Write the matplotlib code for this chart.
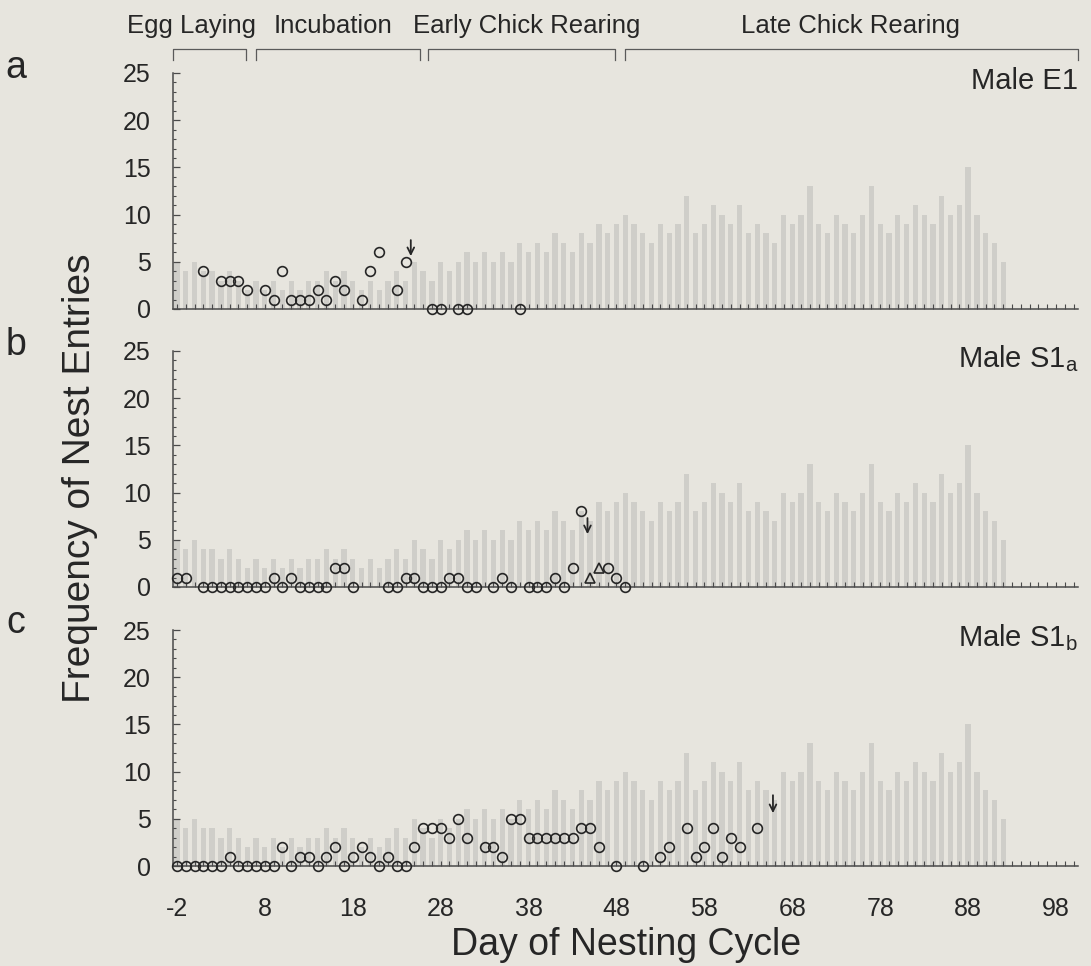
import matplotlib
matplotlib.use("Agg")
import matplotlib.pyplot as plt
from matplotlib.ticker import MultipleLocator
from matplotlib.transforms import blended_transform_factory

plt.rcParams["font.family"] = ["Liberation Sans", "DejaVu Sans"]
plt.rcParams["mathtext.fontset"] = "custom"
plt.rcParams["mathtext.rm"] = "Liberation Sans"
plt.rcParams["mathtext.it"] = "Liberation Sans:italic"
plt.rcParams["axes.unicode_minus"] = False

# --- data ------------------------------------------------------------------
# light grey daily background counts (same in all three panels), days -2..92
GRAY_DAYS = list(range(-2, 93))
GRAY = [5, 4, 5, 4, 4, 3, 4,
        3, 2, 3, 2, 3, 2, 3, 2, 3, 3,
        4, 3, 4, 3, 2, 3, 2, 3, 4, 3,
        5, 4, 3, 5, 4, 5, 6, 5, 6, 5,
        6, 5, 7, 6, 7, 6, 8, 7, 6, 8,
        7, 9, 8, 9, 10, 9, 8, 7, 9, 8,
        9, 12, 8, 9, 11, 10, 9, 11, 8, 9,
        8, 7, 10, 9, 10, 13, 9, 8, 10, 9,
        8, 10, 13, 9, 8, 10, 9, 11, 10, 9,
        12, 10, 11, 15, 10, 8, 7, 5]

# Male E1
DAYS_A = [1, 3, 4, 5, 6, 8, 9, 10, 11, 12, 13, 14, 15, 16, 17, 19, 20, 21, 23, 24,
          27, 28, 30, 31, 37]
ENTRIES_A = [4, 3, 3, 3, 2, 2, 1, 4, 1, 1, 1, 2, 1, 3, 2, 1, 4, 6, 2, 5,
             0, 0, 0, 0, 0]

# Male S1a
DAYS_B = [-2, -1, 1, 2, 3, 4, 5, 6, 7, 8, 9, 10, 11, 12, 13, 14, 15, 16, 17, 18,
          22, 23, 24, 25, 26, 27, 28, 29, 30, 31, 32, 34, 35, 36, 38, 39, 40, 41,
          42, 43, 44, 47, 48, 49]
ENTRIES_B = [1, 1, 0, 0, 0, 0, 0, 0, 0, 0, 1, 0, 1, 0, 0, 0, 0, 2, 2, 0,
             0, 0, 1, 1, 0, 0, 0, 1, 1, 0, 0, 0, 1, 0, 0, 0, 0, 1,
             0, 2, 8, 2, 1, 0]
TRI_DAYS_B = [45, 46]
TRI_B = [1, 2]

# Male S1b
DAYS_C = [-2, -1, 0, 1, 2, 3, 4, 5, 6, 7, 8, 9, 10, 11, 12, 13, 14, 15, 16, 17,
          18, 19, 20, 21, 22, 23, 24, 25, 26, 27, 28, 29, 30, 31, 33, 34, 35, 36,
          37, 38, 39, 40, 41, 42, 43, 44, 45, 46, 48, 51, 53, 54, 56, 57, 58, 59,
          60, 61, 62, 64]
ENTRIES_C = [0, 0, 0, 0, 0, 0, 1, 0, 0, 0, 0, 0, 2, 0, 1, 1, 0, 1, 2, 0,
             1, 2, 1, 0, 1, 0, 0, 2, 4, 4, 4, 3, 5, 3, 2, 2, 1, 5,
             5, 3, 3, 3, 3, 3, 3, 4, 4, 2, 0, 0, 1, 2, 4, 1, 2, 4,
             1, 3, 2, 4]

PANEL_LETTERS = ["a", "b", "c"]
PANEL_NAMES = ["Male E1", r"Male S1$_{\mathrm{a}}$", r"Male S1$_{\mathrm{b}}$"]
ARROW_DAY = [24.6, 44.7, 65.8]
ARROW_TOP = [7.3, 7.3, 7.5]
ARROW_TIP = [5.6, 5.6, 5.6]

PHASE_NAMES = ["Egg Laying", "Incubation", "Early Chick Rearing", "Late Chick Rearing"]
PHASE_START = [-2.45, 7.0, 26.6, 49.0]
PHASE_END = [5.9, 25.6, 47.8, 100.5]
PHASE_LABEL_DAY = [-0.3, 15.75, 37.8, 74.6]

XTICKS = list(range(-2, 99, 10))

# --- layout ----------------------------------------------------------------
PAPER = "#e7e5de"
INK = "#262626"
SPINE = "#4a4a4a"
W, H = 1091, 966
AX_LEFT, AX_RIGHT = 173, 1078
AX_BASE = [309, 587, 866]
AX_H = 236
LETTER_BASE = [78, 355, 633]

fig = plt.figure(figsize=(W / 100, H / 100), dpi=100, facecolor=PAPER)

panels = [(DAYS_A, ENTRIES_A), (DAYS_B, ENTRIES_B), (DAYS_C, ENTRIES_C)]
axes = []
for i, (days, vals) in enumerate(panels):
    ax = fig.add_axes([AX_LEFT / W, 1 - AX_BASE[i] / H,
                       (AX_RIGHT - AX_LEFT) / W, AX_H / H])
    ax.set_facecolor("none")
    ax.bar(GRAY_DAYS, GRAY, width=0.6, color="#cbcbc6", alpha=0.85,
           linewidth=0, zorder=0)
    ax.plot(days, vals, "o", ms=7, mfc="none", mec=INK, mew=1.2,
            clip_on=False, zorder=3)
    if i == 1:
        ax.plot(TRI_DAYS_B, TRI_B, "^", ms=7, mfc="none", mec=INK, mew=1.2,
                clip_on=False, zorder=3)
    ax.annotate("", xy=(ARROW_DAY[i], ARROW_TIP[i]),
                xytext=(ARROW_DAY[i], ARROW_TOP[i]),
                arrowprops=dict(arrowstyle="->", lw=1.3, color=INK,
                                mutation_scale=12, shrinkA=0, shrinkB=0))

    ax.set_xlim(-2.45, 100.5)
    ax.set_ylim(0, 25)
    ax.set_yticks(range(0, 26, 5))
    ax.yaxis.set_minor_locator(MultipleLocator(1))
    ax.set_xticks(XTICKS)
    ax.xaxis.set_minor_locator(MultipleLocator(1))
    ax.tick_params(axis="y", which="major", direction="in", length=5,
                   width=0.9, color=SPINE, labelsize=18, pad=16,
                   labelcolor=INK)
    ax.tick_params(axis="y", which="minor", direction="in", length=2.5,
                   width=0.8, color=SPINE)
    ax.tick_params(axis="x", which="both", direction="in", length=3.5,
                   width=0.8, color=SPINE, labelsize=18, pad=22,
                   labelcolor=INK, labelbottom=(i == 2))
    for side in ("top", "right"):
        ax.spines[side].set_visible(False)
    for side in ("left", "bottom"):
        ax.spines[side].set_color(SPINE)
        ax.spines[side].set_linewidth(1.1)

    ax.text(1.0, 1 - 16 / AX_H, PANEL_NAMES[i], transform=ax.transAxes,
            ha="right", va="baseline", fontsize=21, color=INK)
    fig.text(16 / W, 1 - LETTER_BASE[i] / H, PANEL_LETTERS[i], ha="center",
             va="baseline", fontsize=27, color=INK)
    axes.append(ax)

# phase brackets above the top panel
top = axes[0]
tr = blended_transform_factory(top.transData, fig.transFigure)
y_top, y_leg, y_txt = 1 - 49 / H, 1 - 60 / H, 1 - 33 / H
for name, x0, x1, xl in zip(PHASE_NAMES, PHASE_START, PHASE_END, PHASE_LABEL_DAY):
    top.plot([x0, x0, x1, x1], [y_leg, y_top, y_top, y_leg], transform=tr,
             color="#5a5a5a", lw=0.9, clip_on=False)
    top.text(xl, y_txt, name, transform=tr, ha="center", va="baseline",
             fontsize=18.5, color=INK)

fig.text(80 / W, 1 - 478 / H, "Frequency of Nest Entries", rotation=90,
         ha="center", va="center", fontsize=28, color=INK)
fig.text(626 / W, 1 - 955 / H, "Day of Nesting Cycle", ha="center",
         va="baseline", fontsize=27, color=INK)

fig.savefig("out.png", dpi=100, facecolor=PAPER)
